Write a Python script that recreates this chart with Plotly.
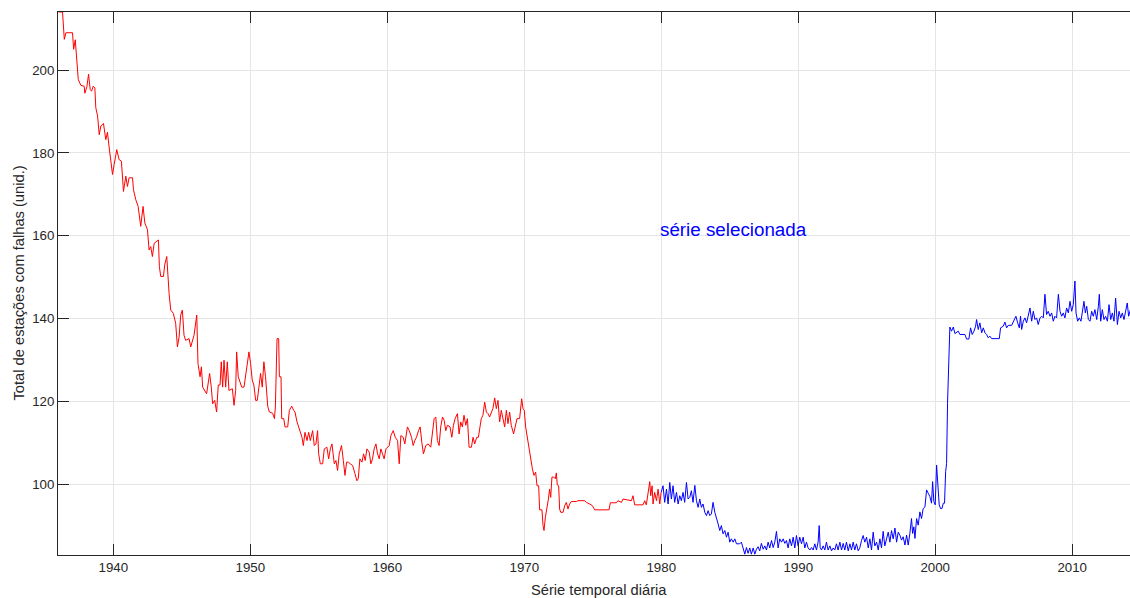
import plotly.graph_objects as go

# Daily count of stations with gaps, read as (decimal year, count) breakpoints.
red_years = [
    1936.00, 1936.29, 1936.42, 1936.54, 1937.02, 1937.10, 1937.22, 1937.31, 1937.44, 1937.63,
    1937.87, 1937.92, 1938.07, 1938.19, 1938.31, 1938.41, 1938.53, 1938.65, 1938.72, 1938.85,
    1938.97, 1939.09, 1939.28, 1939.45, 1939.57, 1939.70, 1939.82, 1939.94, 1940.06, 1940.25,
    1940.42, 1940.59, 1940.74, 1940.91, 1941.03, 1941.15, 1941.40, 1941.47, 1941.64, 1941.81,
    1942.00, 1942.17, 1942.30, 1942.49, 1942.61, 1942.73, 1942.85, 1942.98, 1943.29, 1943.36,
    1943.46, 1943.66, 1943.75, 1943.90, 1944.07, 1944.19, 1944.38, 1944.55, 1944.68, 1944.80,
    1944.92, 1945.04, 1945.16, 1945.28, 1945.53, 1945.65, 1945.89, 1946.09, 1946.18, 1946.33,
    1946.43, 1946.52, 1946.81, 1946.91, 1947.03, 1947.15, 1947.25, 1947.40, 1947.54, 1947.66,
    1947.79, 1947.88, 1947.98, 1948.08, 1948.20, 1948.32, 1948.44, 1948.69, 1948.81, 1948.93,
    1949.00, 1949.12, 1949.37, 1949.54, 1949.66, 1949.78, 1949.90, 1950.02, 1950.14, 1950.26,
    1950.39, 1950.51, 1950.63, 1950.75, 1950.87, 1950.99, 1951.11,
    1951.27, 1951.39, 1951.63, 1951.76, 1951.83, 1951.95, 1952.07, 1952.12, 1952.24, 1952.29,
    1952.44, 1952.53, 1952.73, 1952.85, 1953.02, 1953.17, 1953.26, 1953.41, 1953.51, 1953.63,
    1953.77, 1953.87, 1953.99, 1954.14, 1954.26, 1954.38, 1954.55, 1954.67, 1954.79, 1954.91,
    1954.99, 1955.11, 1955.28, 1955.40, 1955.59, 1955.72, 1955.84, 1955.96, 1956.13, 1956.25,
    1956.37, 1956.49, 1956.66, 1956.79, 1956.91, 1957.03, 1957.15, 1957.30, 1957.47, 1957.64,
    1957.78, 1957.88, 1958.00, 1958.15, 1958.27, 1958.39, 1958.51, 1958.68, 1958.80, 1958.92,
    1959.04, 1959.17, 1959.29, 1959.41, 1959.53, 1959.65, 1959.77, 1959.90, 1960.02, 1960.14,
    1960.26, 1960.43, 1960.58, 1960.75, 1960.87, 1960.99, 1961.16, 1961.28, 1961.47, 1961.60,
    1961.77, 1961.89, 1962.01, 1962.13, 1962.28, 1962.40, 1962.52, 1962.64, 1962.81, 1962.98,
    1963.17, 1963.30, 1963.42, 1963.54, 1963.66, 1963.78, 1963.90, 1964.03, 1964.15, 1964.27,
    1964.39, 1964.58, 1964.71, 1964.83, 1964.95, 1965.12, 1965.24, 1965.36, 1965.48, 1965.60,
    1965.73, 1965.85, 1965.97, 1966.14, 1966.26, 1966.38, 1966.53, 1966.65,
    1966.86, 1966.98, 1967.11, 1967.23, 1967.35, 1967.47, 1967.59, 1967.71, 1967.84, 1967.96,
    1968.08, 1968.20, 1968.32, 1968.44, 1968.57, 1968.69, 1968.81, 1968.93, 1969.05, 1969.22,
    1969.35, 1969.47, 1969.66, 1969.73, 1969.81, 1969.91, 1970.00, 1970.10, 1970.20, 1970.34,
    1970.47, 1970.59, 1970.71, 1970.83, 1970.93, 1971.05, 1971.12, 1971.29, 1971.37, 1971.44,
    1971.54, 1971.66, 1971.76, 1971.85, 1971.93, 1972.02, 1972.15, 1972.27, 1972.34, 1972.41,
    1972.51, 1972.58, 1972.66, 1972.83, 1972.95, 1973.07, 1973.19, 1973.31, 1973.44, 1973.80,
    1973.92, 1974.41, 1974.53, 1974.78, 1974.97, 1975.14, 1976.19, 1976.28, 1976.72, 1976.84,
    1977.09, 1977.21, 1977.82, 1977.94, 1978.06, 1978.67, 1978.79, 1978.91, 1979.04, 1979.16,
    1979.23, 1979.33, 1979.40, 1979.52, 1979.65, 1979.77, 1979.89, 1979.99,
]
red_values = [
    214.0, 214.0, 207.4, 209.0, 209.0, 205.0, 207.3, 202.6, 197.7, 196.3,
    196.1, 194.4, 196.0, 199.0, 195.3, 194.9, 196.1, 195.7, 190.9, 188.9,
    184.4, 186.5, 187.1, 183.2, 185.0, 181.2, 178.0, 174.8, 177.2, 180.8,
    178.4, 178.0, 170.7, 174.4, 171.9, 174.0, 174.0, 171.1, 168.7, 167.1,
    162.3, 167.1, 163.1, 161.5, 156.6, 157.4, 155.0, 158.2, 159.0, 152.6,
    150.2, 150.2, 153.0, 155.0, 146.1, 142.1, 141.3, 138.9, 133.2, 135.6,
    140.9, 142.1, 136.0, 134.8, 135.2, 133.2, 136.0, 140.9, 129.2, 126.0,
    128.4, 123.5, 121.9, 124.8, 126.8, 123.5, 119.5, 120.3, 117.5, 124.0,
    124.0, 129.6, 123.5, 130.0, 123.5, 129.6, 122.7, 123.1, 119.1, 122.7,
    132.0, 126.0, 123.5, 123.5, 126.0, 129.2, 132.0, 129.2, 125.2, 124.0,
    120.3, 120.3, 123.5, 126.8, 123.5, 129.6, 126.0,
    118.9, 117.5, 117.2, 115.9, 118.7, 135.2, 135.2, 126.0, 126.0, 115.9,
    115.9, 113.9, 113.9, 117.9, 118.9, 117.9, 117.5, 115.1, 113.9, 113.0,
    111.4, 109.4, 112.6, 110.6, 112.6, 110.6, 113.0, 109.4, 109.8, 113.0,
    107.4, 105.0, 105.0, 108.6, 109.0, 106.2, 108.6, 109.8, 105.0, 105.8,
    103.4, 107.4, 109.4, 105.8, 102.2, 105.4, 105.4, 105.0, 104.6, 102.6,
    100.9, 101.4, 106.2, 105.4, 107.4, 105.8, 108.6, 107.8, 105.0, 106.2,
    108.6, 109.8, 107.4, 106.2, 108.6, 107.4, 106.2, 108.6, 109.0, 109.4,
    111.8, 113.0, 111.4, 110.6, 105.0, 111.8, 111.4, 109.8, 113.9, 113.0,
    111.4, 109.4, 110.6, 111.4, 113.0, 113.9, 110.2, 107.4, 109.4, 109.8,
    109.0, 113.0, 115.9, 116.3, 110.6, 109.4, 113.9, 116.3, 115.5, 113.0,
    114.3, 113.9, 111.4, 114.3, 115.9, 117.1, 112.2, 115.1, 113.9, 116.7,
    114.3, 115.9, 109.0, 109.0, 111.4, 109.8, 111.4, 111.4,
    115.9, 116.7, 119.9, 117.5, 117.1, 116.3, 117.1, 118.3, 120.9, 118.3,
    120.3, 115.1, 117.9, 116.3, 113.9, 117.9, 114.7, 117.5, 114.3, 112.2,
    114.3, 115.9, 115.9, 119.1, 120.7, 118.3, 117.9, 113.9, 111.8, 108.6,
    106.2, 103.8, 102.2, 103.0, 99.7, 99.7, 93.9, 93.9, 90.1, 88.9,
    92.1, 94.1, 96.5, 98.9, 96.9, 101.8, 101.8, 101.4, 102.8, 99.9,
    99.7, 94.1, 93.3, 93.3, 94.9, 95.7, 94.1, 95.3, 95.9, 95.9,
    96.1, 96.1, 95.7, 95.3, 94.9, 93.9, 93.9, 95.6, 95.6, 96.1,
    95.7, 96.5, 96.1, 97.3, 95.1, 95.1, 96.1, 95.1, 97.7, 100.7,
    97.3, 99.7, 95.3, 98.1, 96.1, 98.9, 95.3, 98.1,
]

blue_years = [
    1979.99, 1980.13, 1980.25, 1980.38, 1980.50, 1980.62, 1980.74, 1980.86, 1980.98, 1981.11,
    1981.23, 1981.35, 1981.47, 1981.59, 1981.71, 1981.84, 1981.96,
    1982.08, 1982.20, 1982.32, 1982.45, 1982.57, 1982.69, 1982.81, 1982.93, 1983.05, 1983.18,
    1983.30, 1983.42, 1983.54, 1983.66, 1983.78, 1983.91, 1984.03, 1984.15, 1984.27, 1984.39,
    1984.51, 1984.64, 1984.76, 1984.88, 1985.00, 1985.12, 1985.25, 1985.37, 1985.49, 1985.73,
    1985.85, 1985.98, 1986.10, 1986.22, 1986.34, 1986.46, 1986.58, 1986.71, 1986.83, 1986.95,
    1987.07, 1987.19, 1987.31, 1987.44, 1987.56, 1987.68, 1987.80, 1987.92, 1988.05, 1988.17,
    1988.29, 1988.41, 1988.53, 1988.65, 1988.78, 1988.90, 1989.02, 1989.14, 1989.26, 1989.38,
    1989.51, 1989.63, 1989.75, 1989.87, 1989.99, 1990.11, 1990.24, 1990.36, 1990.48, 1990.60,
    1990.72, 1990.85, 1990.97, 1991.09, 1991.21, 1991.33, 1991.45, 1991.53, 1991.60, 1991.70,
    1991.82, 1991.94, 1992.06, 1992.18, 1992.31, 1992.43, 1992.55, 1992.67, 1992.79, 1992.91,
    1993.04, 1993.16, 1993.28, 1993.40, 1993.52, 1993.65, 1993.77, 1993.89, 1994.01, 1994.13,
    1994.25, 1994.38, 1994.50, 1994.62, 1994.74, 1994.86, 1994.99, 1995.11, 1995.23, 1995.35,
    1995.47, 1995.59, 1995.72, 1995.84, 1995.96, 1996.08, 1996.20, 1996.32, 1996.45, 1996.57,
    1996.69, 1996.81, 1996.93, 1997.06, 1997.18, 1997.30,
    1997.42, 1997.54, 1997.66, 1997.79, 1997.91, 1998.03, 1998.15, 1998.27, 1998.35, 1998.44,
    1998.52, 1998.64, 1998.76, 1998.88, 1999.00, 1999.12, 1999.25, 1999.37, 1999.49, 1999.61,
    1999.73, 1999.81, 1999.90, 2000.00, 2000.10, 2000.20, 2000.29, 2000.39, 2000.49, 2000.59,
    2000.68, 2000.76, 2000.83, 2000.90, 2000.98, 2001.02, 2001.07, 2001.19, 2001.32, 2001.44,
    2001.68, 2001.80, 2002.17, 2002.29, 2002.46, 2002.58, 2002.70, 2002.83, 2002.95, 2003.02,
    2003.14, 2003.26, 2003.39, 2003.51, 2003.63, 2003.75, 2003.87, 2003.99, 2004.12, 2004.68,
    2004.77, 2004.97, 2005.09, 2005.21, 2005.33, 2005.58, 2005.75, 2005.89, 2006.02, 2006.14,
    2006.23, 2006.31, 2006.43, 2006.55, 2006.67, 2006.79, 2006.92, 2007.04, 2007.16, 2007.28,
    2007.40, 2007.52, 2007.65, 2007.77, 2007.89, 2008.01, 2008.13, 2008.25, 2008.38, 2008.50,
    2008.62, 2008.74, 2008.86, 2008.99, 2009.11, 2009.23, 2009.35, 2009.47, 2009.59, 2009.72,
    2009.84, 2009.96, 2010.08, 2010.20, 2010.28, 2010.40, 2010.52, 2010.64, 2010.76, 2010.86,
    2010.96, 2011.06, 2011.18, 2011.30, 2011.42, 2011.54, 2011.66, 2011.79, 2011.91, 2011.98,
    2012.08, 2012.20, 2012.32, 2012.44, 2012.57, 2012.69, 2012.81, 2012.93, 2013.05, 2013.17,
    2013.30, 2013.42, 2013.54, 2013.66, 2013.78, 2013.90, 2014.02, 2014.12, 2014.25,
]
blue_values = [
    98.1, 99.7, 95.7, 98.9, 95.3, 100.5, 96.5, 99.7, 95.7, 98.1,
    95.3, 97.3, 96.1, 98.1, 95.7, 100.5, 96.5,
    96.9, 98.5, 95.7, 99.8, 96.1, 94.5, 96.5, 94.5, 95.3, 93.3,
    92.5, 93.7, 92.5, 92.9, 95.7, 93.3, 92.1, 90.5, 88.9, 90.1,
    88.1, 88.9, 87.3, 88.5, 86.1, 86.9, 86.1, 86.9, 85.7, 85.7,
    86.1, 84.4, 83.2, 84.8, 83.4, 84.7, 83.2, 84.7, 83.2, 84.4,
    85.0, 84.0, 85.8, 84.4, 85.2, 84.2, 86.1, 84.7, 86.5, 84.8,
    86.1, 88.7, 84.7, 86.9, 86.1, 86.9, 85.8, 86.5, 84.7, 86.9,
    85.2, 87.3, 84.7, 87.7, 85.2, 87.3, 85.7, 87.3, 84.7, 86.1,
    84.7, 84.2, 84.8, 84.2, 85.7, 84.2, 86.1, 90.1, 84.8, 84.2,
    85.2, 84.2, 86.1, 84.2, 85.2, 84.0, 84.7, 84.2, 85.7, 84.2,
    86.1, 84.2, 85.8, 84.2, 86.1, 84.0, 85.7, 84.2, 86.1, 84.2,
    85.7, 84.0, 84.8, 86.5, 87.7, 86.1, 87.3, 84.7, 86.9, 84.2,
    88.5, 85.2, 86.1, 84.2, 86.9, 84.7, 88.7, 85.2, 86.9, 88.5,
    86.1, 88.9, 86.9, 89.5, 86.1, 88.5,
    87.8, 86.6, 87.4, 85.4, 87.8, 85.4, 88.2, 91.8, 88.2, 89.8,
    87.0, 91.8, 90.2, 93.4, 91.8, 94.2, 94.6, 98.7, 97.9, 97.1,
    95.5, 100.7, 95.9, 95.1, 104.7, 100.3, 95.1, 94.2, 94.2, 95.5,
    95.5, 103.1, 105.1, 119.6, 127.7, 134.2, 138.0, 137.0, 138.0, 136.4,
    137.0, 136.2, 136.2, 135.1, 135.1, 137.8, 136.2, 137.0, 138.2, 139.8,
    137.4, 139.0, 136.6, 137.8, 136.6, 136.2, 135.4, 135.8, 135.2, 135.2,
    137.8, 138.2, 139.2, 137.8, 138.4, 138.4, 139.8, 140.6, 139.0, 137.8,
    140.6, 137.4, 139.4, 140.2, 139.0, 141.0, 142.6, 139.4, 141.8, 139.8,
    140.2, 138.6, 140.2, 140.6, 140.2, 145.9, 141.0, 141.8, 140.6, 141.4,
    139.4, 140.6, 140.2, 145.9, 141.8, 140.6, 141.4, 140.2, 142.6, 141.4,
    144.2, 141.8, 143.4, 149.1, 141.4, 139.4, 140.2, 139.4, 142.6, 144.2,
    141.4, 143.0, 139.8, 139.4, 141.8, 140.6, 142.2, 139.8, 143.0, 145.9,
    139.4, 142.2, 139.8, 140.6, 139.4, 143.4, 139.8, 141.4, 139.4, 145.0,
    138.6, 141.8, 140.2, 141.4, 139.8, 141.8, 143.8, 140.6, 142.2,
]

x_ticks = [1940, 1950, 1960, 1970, 1980, 1990, 2000, 2010]
y_ticks = [100, 120, 140, 160, 180, 200]
x_range = [1935.96, 2014.22]
y_range = [83, 214]

label_text = "série selecionada"
label_pos = (1980.0, 161.5)

FONT = "Arial, 'Liberation Sans', Helvetica, sans-serif"
AXIS_COLOR = "#262626"
GRID_COLOR = "#e5e5e5"

fig = go.Figure()
fig.add_trace(go.Scatter(x=red_years, y=red_values, mode="lines",
                         line=dict(color="#ff0000", width=1), showlegend=False))
fig.add_trace(go.Scatter(x=blue_years, y=blue_values, mode="lines",
                         line=dict(color="#0000ff", width=1), showlegend=False))

fig.add_annotation(x=label_pos[0], y=label_pos[1], xref="x", yref="y",
                   text=label_text, showarrow=False, xanchor="left", yanchor="middle",
                   xshift=-3, font=dict(family=FONT, size=18.8, color="#0000ff"))

# axis titles
fig.add_annotation(x=0.5047, y=-0.0645, xref="paper", yref="paper",
                   text="Série temporal diária", showarrow=False,
                   xanchor="center", yanchor="middle",
                   font=dict(family=FONT, size=14.7, color=AXIS_COLOR))
fig.add_annotation(x=-0.0373, y=0.5, xref="paper", yref="paper",
                   text="Total de estações com falhas (unid.)", showarrow=False,
                   textangle=-90, xanchor="center", yanchor="middle",
                   font=dict(family=FONT, size=14.7, color=AXIS_COLOR))

fig.update_layout(
    width=1130, height=598,
    margin=dict(l=58, r=0, t=12, b=43),
    paper_bgcolor="white", plot_bgcolor="white",
    font=dict(family=FONT, size=13.3, color=AXIS_COLOR),
    xaxis=dict(range=x_range, tickvals=x_ticks, ticks="inside", ticklen=11,
               tickcolor=AXIS_COLOR, showline=True, linecolor=AXIS_COLOR, linewidth=1,
               mirror="ticks", showgrid=True, gridcolor=GRID_COLOR, zeroline=False,
               tickfont=dict(family=FONT, size=13.3, color=AXIS_COLOR)),
    yaxis=dict(range=y_range, tickvals=y_ticks, ticks="inside", ticklen=11,
               tickcolor=AXIS_COLOR, showline=True, linecolor=AXIS_COLOR, linewidth=1,
               showgrid=True, gridcolor=GRID_COLOR, zeroline=False,
               tickfont=dict(family=FONT, size=13.3, color=AXIS_COLOR)),
)

fig.write_html("out.html")
